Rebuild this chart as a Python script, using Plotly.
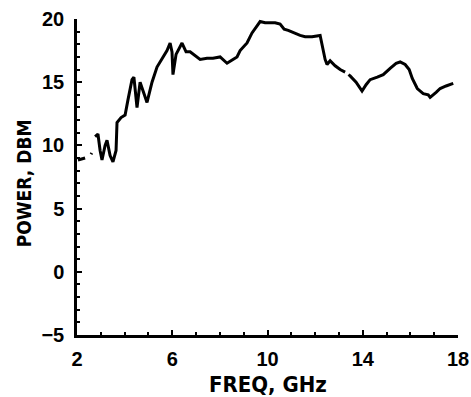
import plotly.graph_objects as go

# Output power sweep (GHz, dBm); None marks breaks in the trace
freq_ghz = [2.04, 2.34, None, 2.59, 2.62, None, 2.76, 2.88, 2.97, 3.05, 3.18, 3.26, 3.39, 3.51,
            3.64, 3.68, 3.85, 4.02, 4.14, 4.31, 4.39, 4.52, 4.65, 4.77, 4.94, 5.07,
            5.15, 5.36, 5.61, 5.78, 5.91, 5.99, 6.03, 6.16, 6.41, 6.58, 6.75, 7.17,
            7.46, 7.71, 8.01, 8.30, 8.55, 8.72, 8.85, 9.14, 9.35, 9.52, 9.69, 9.90,
            10.11, 10.32, 10.53, 10.70, 10.87, 11.12, 11.37, 11.58, 11.87, 12.21,
            12.29, 12.42, 12.50, 12.63, 12.84, 13.05, 13.26, None, 13.40, 13.47, 13.72, 13.89,
            13.97, 14.14, 14.31, 14.61, 14.86, 15.15, 15.40, 15.57, 15.78, 15.95,
            16.08, 16.29, 16.54, 16.75, 16.83, 17.08, 17.25, 17.50, 17.80]
power_dbm = [8.85, 9.0, None, 9.3, 9.4, None, 10.7, 10.9, 9.6, 8.85, 10.0, 10.4, 9.2, 8.7,
             9.6, 11.8, 12.2, 12.4, 13.6, 15.2, 15.4, 13.0, 15.0, 14.4, 13.4, 14.4,
             15.0, 16.2, 17.0, 17.5, 18.1, 17.4, 15.6, 17.2, 18.1, 17.4, 17.4, 16.8,
             16.9, 16.9, 17.0, 16.5, 16.8, 17.0, 17.5, 18.1, 18.9, 19.4, 19.8, 19.7,
             19.7, 19.7, 19.6, 19.2, 19.1, 18.9, 18.7, 18.6, 18.6, 18.7,
             17.9, 16.8, 16.4, 16.7, 16.3, 16.0, 15.8, None, 15.6, 15.5, 15.0, 14.5,
             14.3, 14.8, 15.2, 15.4, 15.6, 16.1, 16.5, 16.6, 16.4, 16.0,
             15.3, 14.5, 14.1, 14.0, 13.8, 14.2, 14.5, 14.7, 14.9]

x_ticks = [2, 6, 10, 14, 18]
y_ticks = [-5, 0, 5, 10, 15, 20]
y_tick_text = ["\u22125", "0", "5", "10", "15", "20"]

TICK_FONT = "Liberation Sans, Arial, sans-serif"
TITLE_FONT = "Liberation Sans Narrow, DejaVu Sans Condensed, Liberation Sans, sans-serif"

fig = go.Figure()
fig.add_trace(go.Scatter(
    x=freq_ghz, y=power_dbm, mode="lines",
    line=dict(color="black", width=3),
    connectgaps=False, hoverinfo="skip", showlegend=False,
))

axis_common = dict(
    showgrid=False, zeroline=False, showline=True, linecolor="black", linewidth=2.5,
    ticks="inside", ticklen=5, tickwidth=1.5, tickcolor="black", automargin=False,
    tickfont=dict(family=TICK_FONT, size=20, color="black", weight="bold"),
)

fig.update_xaxes(
    range=[2, 18], tickvals=x_ticks, ticktext=[str(v) for v in x_ticks],
    minor=dict(dtick=1, tick0=2, ticks="inside", ticklen=3, tickcolor="black", tickwidth=1.5),
    ticklabelstandoff=4,
    **axis_common,
)
fig.update_yaxes(
    range=[-5, 20], tickvals=y_ticks, ticktext=y_tick_text,
    minor=dict(dtick=1, tick0=0, ticks="inside", ticklen=3, tickcolor="black", tickwidth=1.5),
    ticklabelstandoff=6,
    **axis_common,
)

fig.add_annotation(
    text="FREQ, GHz", xref="paper", yref="paper", x=0.5, y=-0.11,
    xanchor="center", yanchor="top", showarrow=False,
    font=dict(family=TITLE_FONT, size=22, color="black", weight="bold"),
)
fig.add_annotation(
    text="POWER, DBM", xref="paper", yref="paper", x=-0.139, y=0.48,
    xanchor="center", yanchor="middle", showarrow=False, textangle=-90,
    font=dict(family=TITLE_FONT, size=19, color="black", weight="bold"),
)

fig.update_layout(
    width=471, height=397,
    margin=dict(l=77, r=13, t=19, b=62),
    paper_bgcolor="white", plot_bgcolor="white",
)

fig.write_html("out.html")
